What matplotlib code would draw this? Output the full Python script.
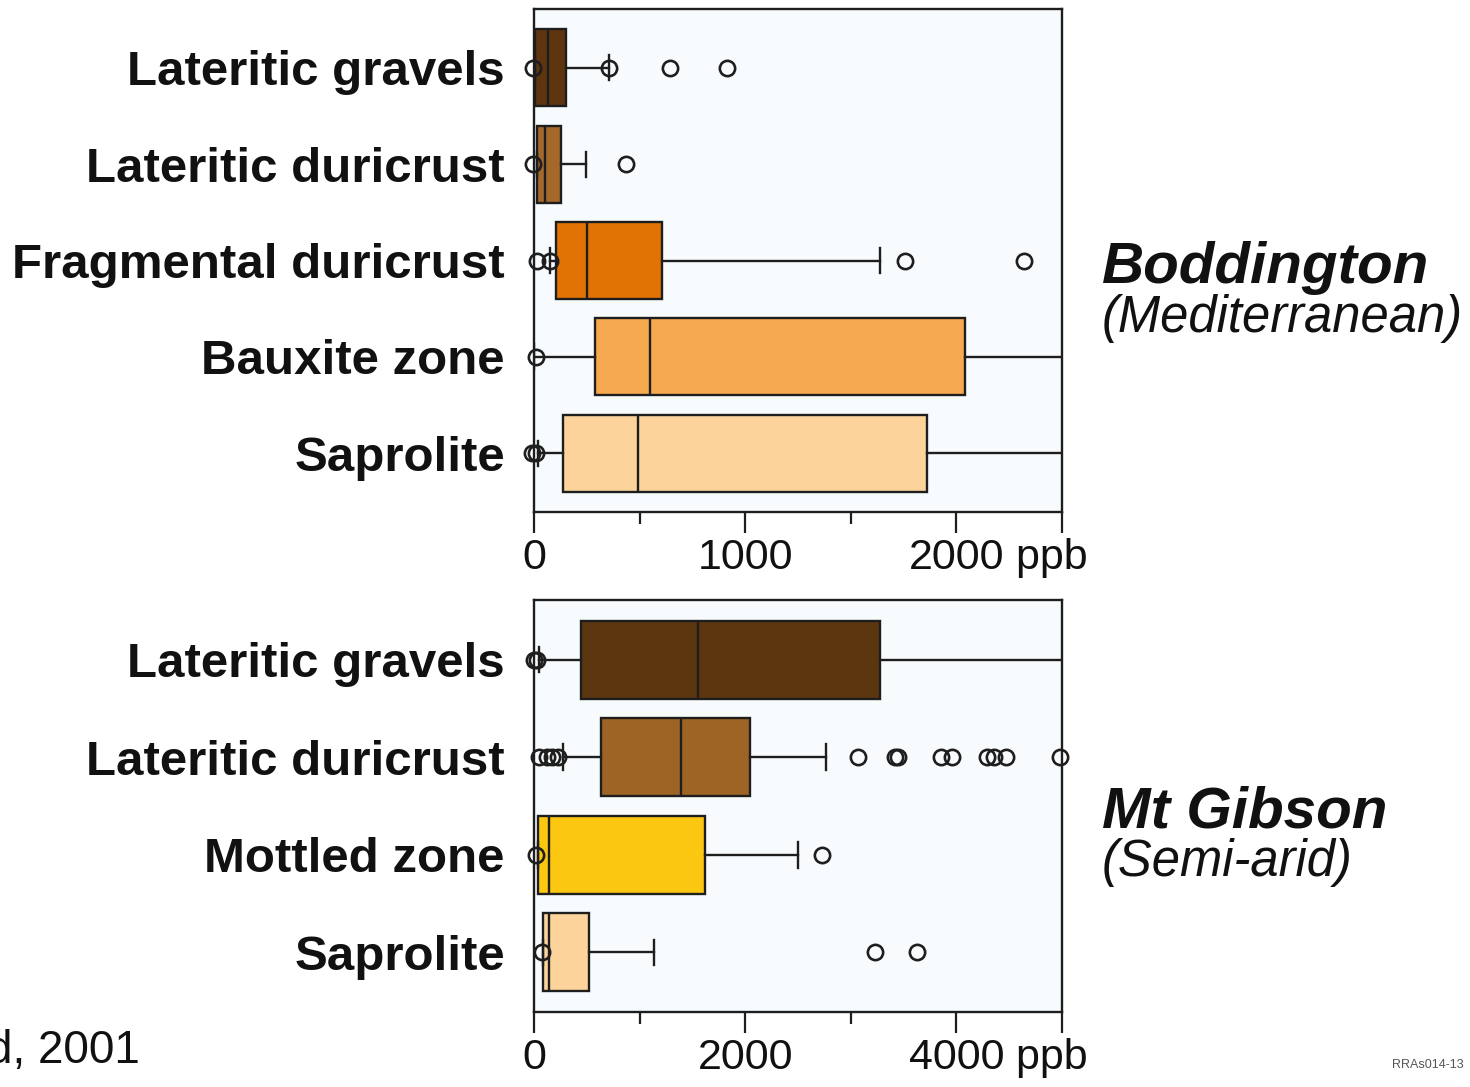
import matplotlib
matplotlib.use("Agg")
import matplotlib.pyplot as plt

plt.rcParams['font.family'] = ['Liberation Sans', 'DejaVu Sans']

# ---------------- data: Boddington (Mediterranean) ----------------
top_categories = ["Lateritic gravels", "Lateritic duricrust", "Fragmental duricrust",
                  "Bauxite zone", "Saprolite"]
top_q1 = [5, 14, 104, 287, 135]
top_med = [66, 51, 251, 549, 491]
top_q3 = [152, 128, 607, 2042, 1862]
top_whislo = [5, 14, 76, 2, 20]
top_whishi = [356, 247, 1637, 2700, 2700]
top_fliers = [[-5, 355, 645, 915], [-5, 437], [14, 76, 1755, 2322], [10], [-10, 10]]
top_colors = ["#5f3510", "#a4682b", "#e07304", "#f6a94e", "#fcd49b"]
top_ticks = [0, 1000, 2000, 2500]
top_ticklabels = ["0", "1000", "2000", ""]
top_minor = [500, 1500]
top_xmax = 2500

# ---------------- data: Mt Gibson (Semi-arid) ----------------
bot_categories = ["Lateritic gravels", "Lateritic duricrust", "Mottled zone", "Saprolite"]
bot_q1 = [445, 631, 41, 85]
bot_med = [1555, 1394, 139, 139]
bot_q3 = [3273, 2044, 1615, 518]
bot_whislo = [50, 279, 41, 85]
bot_whishi = [5400, 2768, 2500, 1140]
bot_fliers = [[0, 30],
              [47, 123, 171, 228, 3069, 3414, 3449, 3857, 3962, 4292, 4355, 4472, 4981],
              [16, 2729],
              [76, 3232, 3628]]
bot_colors = ["#5c360f", "#9e6425", "#fbc710", "#fcd49b"]
bot_ticks = [0, 2000, 4000, 5000]
bot_ticklabels = ["0", "2000", "4000", ""]
bot_minor = [1000, 3000]
bot_xmax = 5000

W, H = 1470, 1087
fig = plt.figure(figsize=(W / 100, H / 100), dpi=100)
fig.patch.set_facecolor("white")

LINE = "#1e1e1e"
TXT = "#111111"
LW = 1.7


def px_rect(x0, y0, x1, y1):
    return [x0 / W, 1 - y1 / H, (x1 - x0) / W, (y1 - y0) / H]


def panel(rect, cats, q1, med, q3, wlo, whi, fliers, colors, ticks, ticklabels,
          minor, xmax):
    ax = fig.add_axes(rect)
    ax.set_facecolor("#f8fbfd")
    stats = []
    for i in range(len(cats)):
        stats.append(dict(q1=q1[i], med=med[i], q3=q3[i], whislo=wlo[i],
                          whishi=whi[i], fliers=fliers[i]))
    pos = list(range(len(cats)))
    kw = dict(positions=pos, widths=0.8, capwidths=0.26, patch_artist=True,
              boxprops=dict(edgecolor=LINE, linewidth=LW),
              medianprops=dict(color=LINE, linewidth=LW),
              whiskerprops=dict(color=LINE, linewidth=LW),
              capprops=dict(color=LINE, linewidth=LW),
              flierprops=dict(marker="o", markersize=11, markerfacecolor="none",
                              markeredgecolor=LINE, markeredgewidth=1.9,
                              linestyle="none"))
    try:
        res = ax.bxp(stats, orientation="horizontal", **kw)
    except TypeError:
        res = ax.bxp(stats, vert=False, **kw)
    for patch, c in zip(res["boxes"], colors):
        patch.set_facecolor(c)
    for fl in res["fliers"]:
        fl.set_clip_on(False)
        fl.set_zorder(5)
    ax.set_xlim(0, xmax)
    ax.set_ylim(len(cats) - 1 + 0.61, -0.61)
    ax.set_yticks(pos)
    ax.set_yticklabels(cats, fontsize=35.5, fontweight="bold", color=TXT)
    ax.tick_params(axis="y", length=0, pad=21)
    ax.set_xticks(ticks)
    ax.set_xticklabels(ticklabels, fontsize=31, color=TXT)
    ax.set_xticks(minor, minor=True)
    ax.tick_params(axis="x", which="major", length=15, width=1.6, color=LINE,
                   pad=4, direction="out")
    ax.tick_params(axis="x", which="minor", length=8.5, width=1.6, color=LINE,
                   direction="out")
    for s in ax.spines.values():
        s.set_color(LINE)
        s.set_linewidth(1.7)
    # unit label after the last numbered tick
    lab = ax.get_xticklabels()[2]
    ax.annotate(" ppb", xy=(1, 0), xycoords=lab, ha="left", va="bottom",
                fontsize=31, color=TXT)
    return ax


panel(px_rect(534, 9, 1062, 512), top_categories, top_q1, top_med, top_q3,
      top_whislo, top_whishi, top_fliers, top_colors, top_ticks, top_ticklabels,
      top_minor, top_xmax)
panel(px_rect(534, 600, 1062, 1012), bot_categories, bot_q1, bot_med, bot_q3,
      bot_whislo, bot_whishi, bot_fliers, bot_colors, bot_ticks, bot_ticklabels,
      bot_minor, bot_xmax)

# site labels
fig.text(1102 / W, 1 - 283 / H, "Boddington", fontsize=42, fontweight="bold",
         style="italic", color=TXT, va="baseline", ha="left")
fig.text(1102 / W, 1 - 332 / H, "(Mediterranean)", fontsize=36.5, style="italic",
         color=TXT, va="baseline", ha="left")
fig.text(1102 / W, 1 - 828 / H, "Mt Gibson", fontsize=42, fontweight="bold",
         style="italic", color=TXT, va="baseline", ha="left")
fig.text(1102 / W, 1 - 876 / H, "(Semi-arid)", fontsize=36.5, style="italic",
         color=TXT, va="baseline", ha="left")

# partial citation (cut off at the left edge, as in the source) and figure code
fig.text(140 / W, 1 - 1063 / H, "d, 2001", fontsize=33, color=TXT,
         va="baseline", ha="right")
fig.text(1464 / W, 1 - 1068 / H, "RRAs014-13", fontsize=9, color="#555555",
         va="baseline", ha="right")

fig.savefig("out.png", dpi=100)
